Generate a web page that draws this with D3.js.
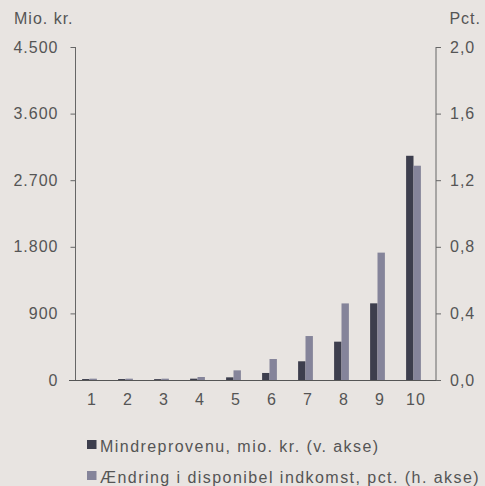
<!DOCTYPE html>
<html><head><meta charset="utf-8">
<script src="https://cdn.jsdelivr.net/npm/d3@7"></script>
<style>
body{margin:0;background:#e8e4e1;}
svg{display:block;font-family:"Liberation Sans",Arial,sans-serif;}
</style></head>
<body>
<svg id="c" width="485" height="486"></svg>
<script>
const categories = ["1","2","3","4","5","6","7","8","9","10"];
const mindreprovenu = [13, 13, 12, 18, 36, 95, 253, 518, 1036, 3030];
const aendring = [0.008, 0.008, 0.008, 0.018, 0.058, 0.126, 0.264, 0.46, 0.765, 1.287];
const leftTicks = [0, 900, 1800, 2700, 3600, 4500];
const rightTicks = [0, 0.4, 0.8, 1.2, 1.6, 2.0];
const seriesNames = ["Mindreprovenu, mio. kr. (v. akse)", "Ændring i disponibel indkomst, pct. (h. akse)"];
const colors = ["#3d3e4d", "#85849a"];

const svg = d3.select("#c");
const textColor = "#555";
const fs = 16, ls = "1px";
const x = d3.scaleBand().domain(categories).range([71.5, 431.5]);
const yL = d3.scaleLinear().domain([0, 4500]).range([380, 47]);
const yR = d3.scaleLinear().domain([0, 2.0]).range([380, 47]);
const bw = 7.4;

// bars
const g = svg.append("g");
g.selectAll("rect.l").data(categories).join("rect")
  .attr("x", d => x(d) + x.bandwidth()/2 - bw)
  .attr("y", (d,i) => yL(mindreprovenu[i]))
  .attr("width", bw)
  .attr("height", (d,i) => 380 - yL(mindreprovenu[i]))
  .attr("fill", colors[0]);
g.selectAll("rect.r").data(categories).join("rect")
  .attr("x", d => x(d) + x.bandwidth()/2)
  .attr("y", (d,i) => yR(aendring[i]))
  .attr("width", bw)
  .attr("height", (d,i) => 380 - yR(aendring[i]))
  .attr("fill", colors[1]);

// axes
const loc = d3.formatLocale({decimal:",", thousands:".", grouping:[3], currency:["",""]});
const fmtL = loc.format(",.0f");
const fmtR = loc.format(".1f");

const axL = svg.append("g").attr("transform", "translate(75.5,0)")
  .call(d3.axisLeft(yL).tickValues(leftTicks).tickFormat(fmtL).tickSize(5).tickPadding(12));
const axR = svg.append("g").attr("transform", "translate(436,0)")
  .call(d3.axisRight(yR).tickValues(rightTicks).tickFormat(fmtR).tickSize(5).tickPadding(9));
[axL, axR].forEach(a => {
  a.select(".domain").attr("stroke", "#666").attr("d", "M0,47V380");
  a.selectAll(".tick line").attr("stroke", "#666");
  a.selectAll("text").attr("fill", textColor).attr("font-size", fs).attr("letter-spacing", ls)
    .attr("font-family", "Liberation Sans, Arial, sans-serif");
});

// x axis
svg.append("line").attr("x1", 69).attr("x2", 436).attr("y1", 380.5).attr("y2", 380.5).attr("stroke", "#555").attr("stroke-width", 1.2);
svg.append("g").selectAll("text").data(categories).join("text")
  .attr("x", d => x(d) + x.bandwidth()/2 + 2.5)
  .attr("y", 405)
  .attr("text-anchor", "middle")
  .attr("fill", textColor).attr("font-size", fs).attr("letter-spacing", ls)
  .text(d => d);

// axis titles
svg.append("text").attr("x", 14).attr("y", 24).attr("fill", textColor).attr("font-size", fs).attr("letter-spacing", ls).text("Mio. kr.");
svg.append("text").attr("x", 481).attr("y", 24).attr("text-anchor", "end").attr("fill", textColor).attr("font-size", fs).attr("letter-spacing", ls).text("Pct.");

// legend
const leg = svg.append("g");
seriesNames.forEach((n, i) => {
  const base = 452 + i * 31;
  leg.append("rect").attr("x", 87).attr("y", base - 12).attr("width", 9.5).attr("height", 9).attr("fill", colors[i]);
  leg.append("text").attr("x", 100).attr("y", base).attr("fill", textColor).attr("font-size", fs).attr("letter-spacing", "1.45px").text(n);
});
</script>
</body></html>
